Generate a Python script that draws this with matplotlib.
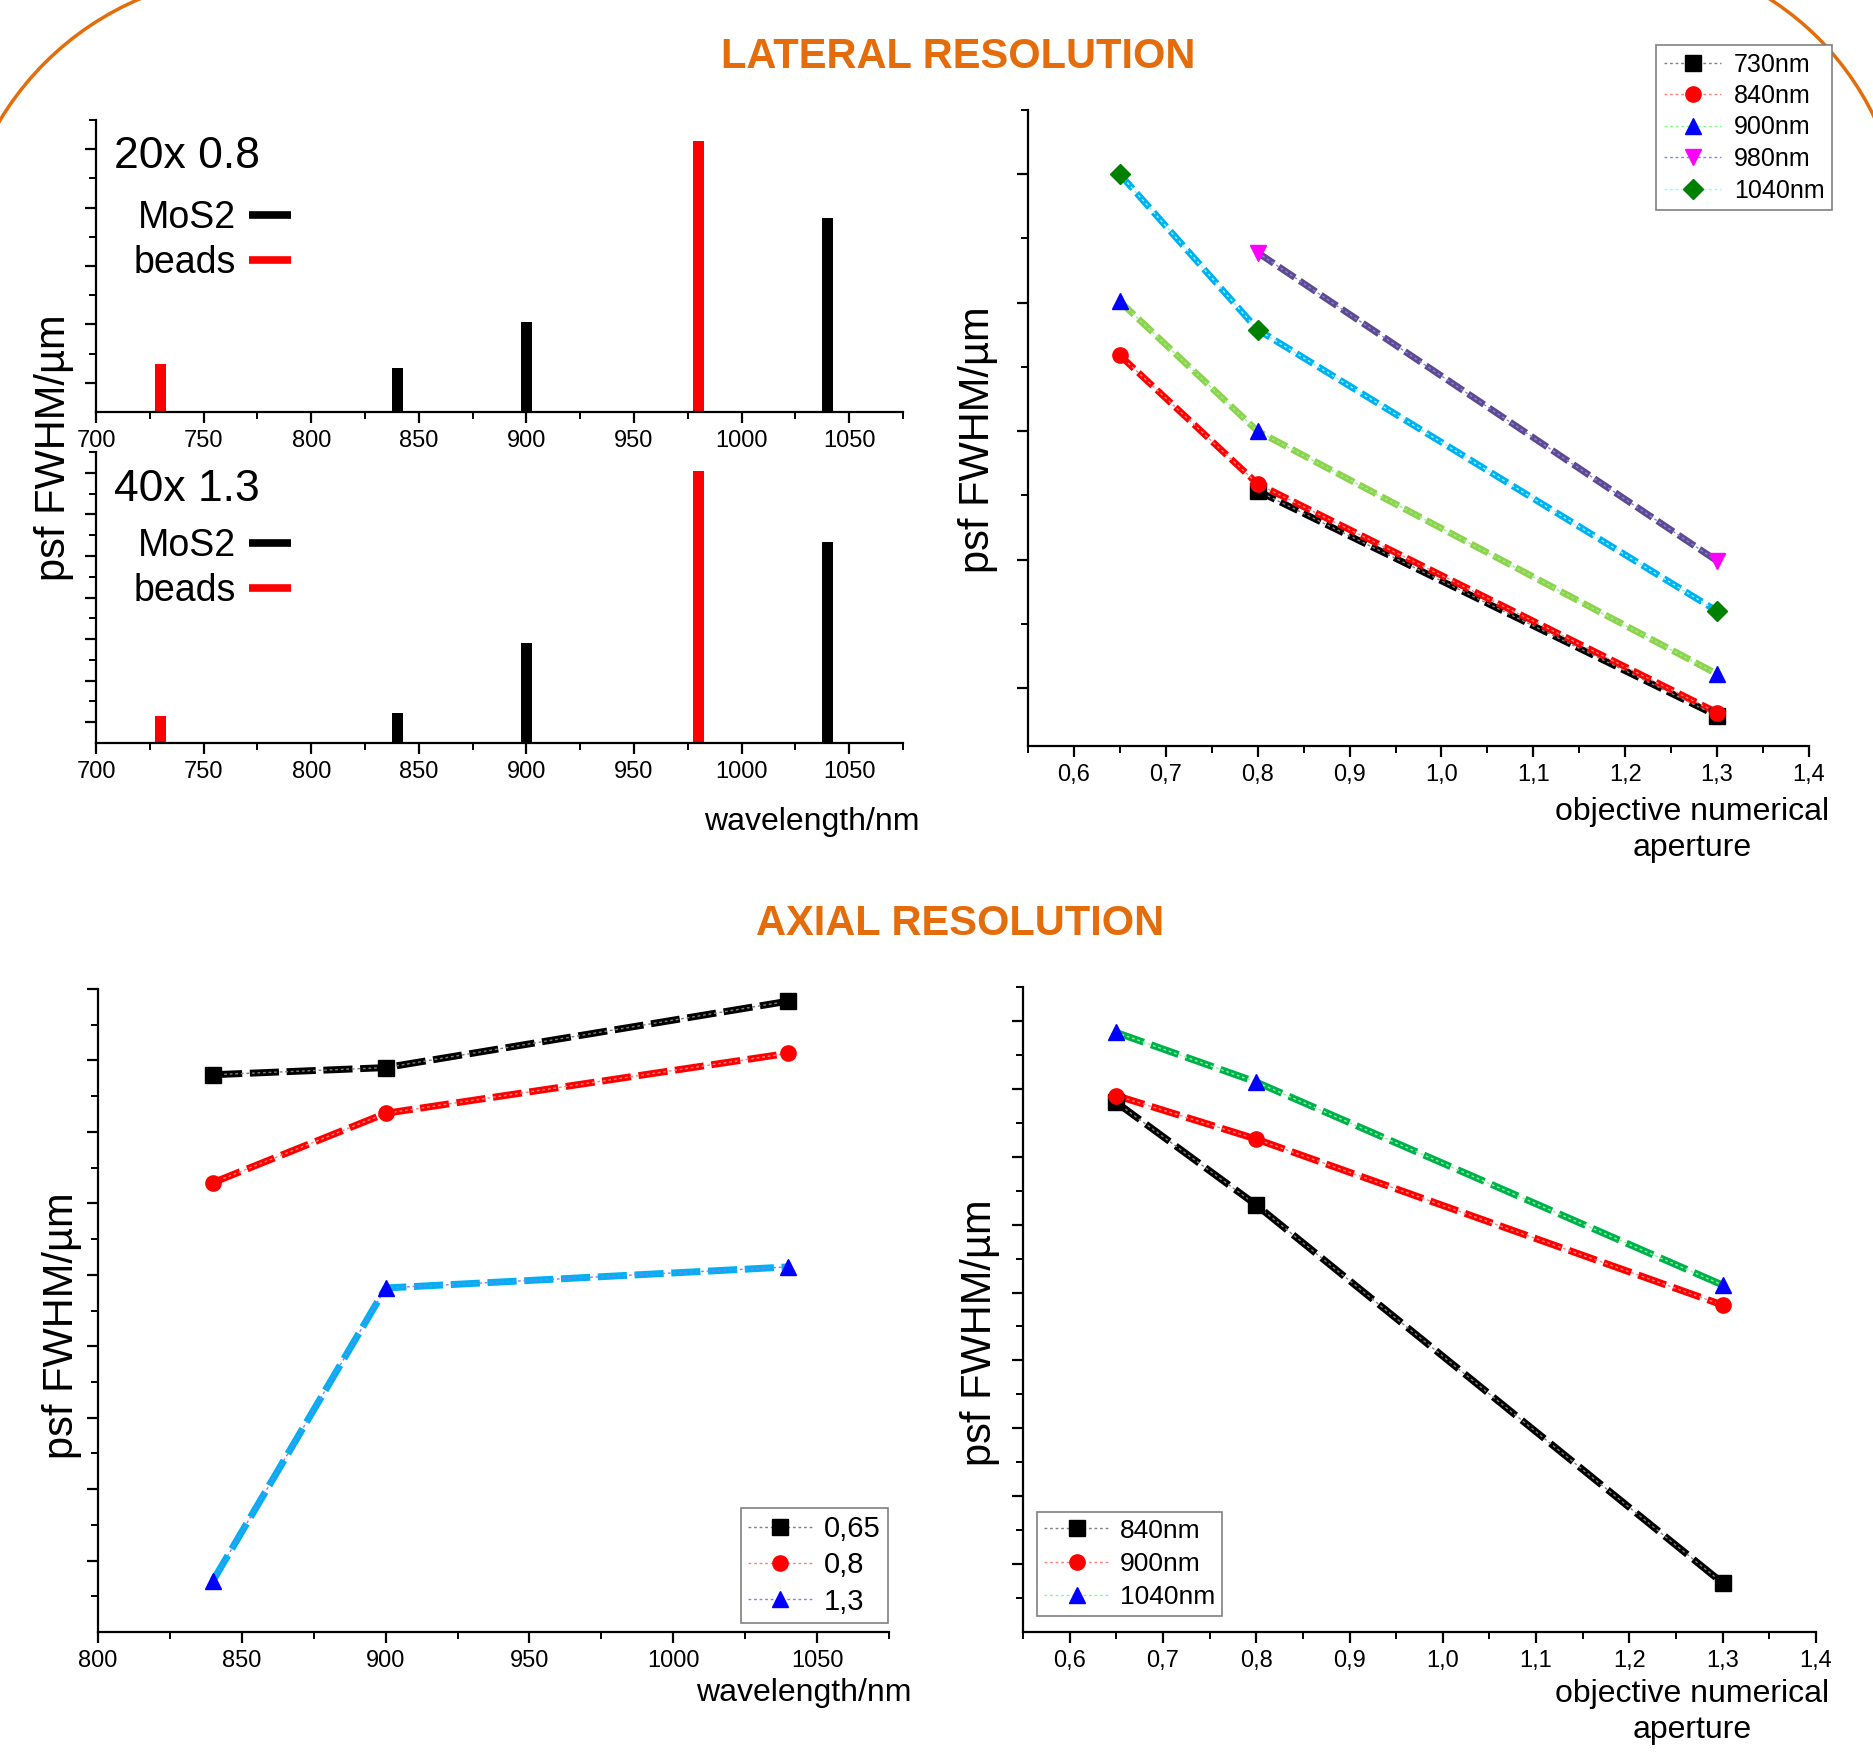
import numpy as np
import matplotlib.pyplot as plt
from matplotlib.patches import Arc
from matplotlib.lines import Line2D
from matplotlib.ticker import MultipleLocator, FuncFormatter

W, H = 1874, 1752
plt.rcParams['font.family'] = ['Liberation Sans', 'DejaVu Sans']

ORANGE = '#E46C0A'

################################
# DATA (tick-step units, y labels are hidden in the original)
################################

# lateral, bars per wavelength
bar_wl = [730, 840, 900, 980, 1040]
bar_src = ['beads', 'MoS2', 'MoS2', 'beads', 'MoS2']
lat_20x = [1.63, 1.49, 3.08, 9.27, 6.66]
lat_40x = [1.28, 1.44, 4.83, 13.1, 9.65]

# lateral vs NA
lat_na = [0.65, 0.8, 1.3]
lat_labels = ['730nm', '840nm', '900nm', '980nm', '1040nm']
lat_730 = [np.nan, 4.07, 0.57]
lat_840 = [6.18, 4.18, 0.62]
lat_900 = [7.02, 5.00, 1.22]
lat_980 = [np.nan, 7.78, 2.98]
lat_1040 = [9.00, 6.58, 2.20]

# axial: rows = NA, columns = wavelength
ax_wl = [840, 900, 1040]
ax_na = [0.65, 0.8, 1.3]
ax_na_labels = ['0,65', '0,8', '1,3']
ax_wl_labels = ['840nm', '900nm', '1040nm']
axial_065 = [15.60, 15.80, 17.66]
axial_08 = [12.58, 14.52, 16.20]
axial_13 = [1.44, 9.63, 10.22]


################################
# HELPERS
################################

fig = plt.figure(figsize=(W / 100, H / 100), dpi=100)


def px_axes(l, t, r, b):
    return fig.add_axes([l / W, 1 - b / H, (r - l) / W, (b - t) / H])


def ftext(x, y, s, **kw):
    fig.text(x / W, 1 - y / H, s, **kw)


def style(ax, ylim, ymaj, ymin):
    for s in ['top', 'right']:
        ax.spines[s].set_visible(False)
    for s in ['left', 'bottom']:
        ax.spines[s].set_linewidth(1.6)
    ax.tick_params(which='major', direction='out', length=8, width=1.6,
                   labelsize=17, pad=5)
    ax.tick_params(which='minor', direction='out', length=5, width=1.4)
    ax.tick_params(axis='y', labelleft=False)
    ax.set_ylim(*ylim)
    ax.set_yticks(ymaj)
    ax.set_yticks(ymin, minor=True)


comma = FuncFormatter(lambda v, p: f"{v:.1f}".replace('.', ','))


def thick(ax, x, y, color, lw, dashes):
    ax.plot(x, y, color=color, lw=lw, dashes=dashes,
            dash_capstyle='butt', zorder=2)


def thin(ax, x, y, color, marker, mcolor, label, ms=11):
    ax.plot(x, y, color=color, lw=1, ls=(0, (2, 2)), marker=marker,
            mfc=mcolor, mec=mcolor, ms=ms, label=label, zorder=3)


def boxed_legend(ax, loc, anchor, **kw):
    leg = ax.legend(loc=loc, bbox_to_anchor=(anchor[0] / W, 1 - anchor[1] / H),
                    bbox_transform=fig.transFigure, borderaxespad=0,
                    fancybox=False, framealpha=1, **kw)
    leg.get_frame().set_edgecolor('#808080')
    leg.get_frame().set_linewidth(1.2)
    return leg


################################
# BACKGROUND ARCS
################################

bg = fig.add_axes([0, 0, 1, 1])
bg.set_xlim(0, W)
bg.set_ylim(H, 0)
bg.axis('off')
bg.add_patch(Arc((257, 275), 600, 600, theta1=180, theta2=270,
                 color=ORANGE, lw=2.5))
bg.add_patch(Arc((1613, 243), 580, 580, theta1=270, theta2=360,
                 color=ORANGE, lw=2.5))

ftext(958, 57, 'LATERAL RESOLUTION', ha='center', va='center',
      fontsize=30, weight='bold', color=ORANGE)
ftext(960, 924, 'AXIAL RESOLUTION', ha='center', va='center',
      fontsize=30, weight='bold', color=ORANGE)


################################
# LATERAL BARS
################################

bar_colors = ['#ff0000' if s == 'beads' else '#000000' for s in bar_src]
mos_handles = [Line2D([], [], color='#000000', lw=5.5, solid_capstyle='butt'),
               Line2D([], [], color='#ff0000', lw=5.5, solid_capstyle='butt')]

panels = [
    (120, 412, lat_20x, '20x 0.8', (0, 10), [1, 3, 5, 7, 9], [2, 4, 6, 8, 10], 200),
    (452, 743, lat_40x, '40x 1.3', (0, 14), list(range(1, 14, 2)),
     list(range(2, 15, 2)), 528),
]

for top, bot, vals, title, ylim, ymaj, ymin, leg_y in panels:
    ax = px_axes(96, top, 903, bot)
    ax.bar(bar_wl, vals, width=5, color=bar_colors, zorder=2)
    ax.set_xlim(700, 1075)
    ax.xaxis.set_major_locator(MultipleLocator(50))
    ax.xaxis.set_minor_locator(MultipleLocator(25))
    style(ax, ylim, ymaj, ymin)
    ax.text(0.022, 1 - 37 / (bot - top), title, transform=ax.transAxes,
            fontsize=32, va='center', ha='left')
    ax.legend(mos_handles, ['MoS2', 'beads'], markerfirst=False,
              frameon=False, fontsize=27, handlelength=1.1,
              handletextpad=0.35, labelspacing=0.23, borderpad=0,
              borderaxespad=0, loc='upper left',
              bbox_to_anchor=(134 / W, 1 - leg_y / H),
              bbox_transform=fig.transFigure)

ftext(54, 448, 'psf FWHM/µm', rotation=90, ha='center', va='center',
      fontsize=30)
ftext(920, 822, 'wavelength/nm', ha='right', va='center', fontsize=23)


################################
# LATERAL VS NA
################################

ax = px_axes(1028, 110, 1809, 746)
lat_series = [lat_730, lat_840, lat_900, lat_980, lat_1040]
lat_thick = ['#000000', '#ff0000', '#92d050', '#5f4b8b', '#00b0f0']
lat_thin = ['#808080', '#ff8080', '#80ff80', '#8080ff', '#80ffff']
lat_marker = ['s', 'o', '^', 'v', 'D']
lat_mcolor = ['#000000', '#ff0000', '#0000ff', '#ff00ff', '#008000']

for vals, c in zip(lat_series, lat_thick):
    thick(ax, lat_na, vals, c, 4.8, (2.9, 0.9))
for vals, c, m, mc, lab in zip(lat_series, lat_thin, lat_marker,
                               lat_mcolor, lat_labels):
    thin(ax, lat_na, vals, c, m, mc, lab, ms=10 if m == 'D' else 11)

ax.set_xlim(0.55, 1.4)
ax.xaxis.set_major_locator(MultipleLocator(0.1))
ax.xaxis.set_minor_locator(MultipleLocator(0.05))
ax.xaxis.set_major_formatter(comma)
style(ax, (0.1, 10), [1, 3, 5, 7, 9], [2, 4, 6, 8, 10])
boxed_legend(ax, 'upper right', (1832, 45), fontsize=18, handlelength=2.3,
             handletextpad=0.5, labelspacing=0.3, borderpad=0.3)

ftext(978, 440, 'psf FWHM/µm', rotation=90, ha='center', va='center',
      fontsize=30)
ftext(1692, 830, 'objective numerical\naperture', ha='center', va='center',
      fontsize=23, linespacing=1.3)


################################
# AXIAL VS WAVELENGTH
################################

axial = np.array([axial_065, axial_08, axial_13])

ax = px_axes(98, 989, 889, 1632)
wl_thick = ['#000000', '#ff0000', '#00b0f0']
wl_thin = ['#808080', '#ff8080', '#8080ff']
ax_marker = ['s', 'o', '^']
ax_mcolor = ['#000000', '#ff0000', '#0000ff']

for row, c in zip(axial, wl_thick):
    thick(ax, ax_wl, row, c, 5, (4.2, 1.1))
for row, c, m, mc, lab in zip(axial, wl_thin, ax_marker, ax_mcolor,
                              ax_na_labels):
    thin(ax, ax_wl, row, c, m, mc, lab)

ax.set_xlim(800, 1075)
ax.xaxis.set_major_locator(MultipleLocator(50))
ax.xaxis.set_minor_locator(MultipleLocator(25))
style(ax, (0, 18), list(range(2, 19, 2)), list(range(1, 18, 2)))
boxed_legend(ax, 'upper left', (741, 1508), fontsize=21, handlelength=2.2,
             handletextpad=0.4, labelspacing=0.28, borderpad=0.25)

ftext(62, 1326, 'psf FWHM/µm', rotation=90, ha='center', va='center',
      fontsize=30)
ftext(912, 1693, 'wavelength/nm', ha='right', va='center', fontsize=23)


################################
# AXIAL VS NA
################################

ax = px_axes(1023, 987, 1816, 1632)
na_thick = ['#000000', '#ff0000', '#00b050']
na_thin = ['#808080', '#ff8080', '#80ff80']

for col, c in zip(axial.T, na_thick):
    thick(ax, ax_na, col, c, 5, (4.2, 1.1))
for col, c, m, mc, lab in zip(axial.T, na_thin, ax_marker, ax_mcolor,
                              ax_wl_labels):
    thin(ax, ax_na, col, c, m, mc, lab)

ax.set_xlim(0.55, 1.4)
ax.xaxis.set_major_locator(MultipleLocator(0.1))
ax.xaxis.set_minor_locator(MultipleLocator(0.05))
ax.xaxis.set_major_formatter(comma)
style(ax, (0, 19), list(range(2, 19, 2)), list(range(1, 20, 2)))
boxed_legend(ax, 'upper left', (1037, 1512), fontsize=19, handlelength=2.5,
             handletextpad=0.4, labelspacing=0.35, borderpad=0.25)

ftext(980, 1333, 'psf FWHM/µm', rotation=90, ha='center', va='center',
      fontsize=30)
ftext(1692, 1712, 'objective numerical\naperture', ha='center', va='center',
      fontsize=23, linespacing=1.25)

fig.savefig('out.png', dpi=100)
